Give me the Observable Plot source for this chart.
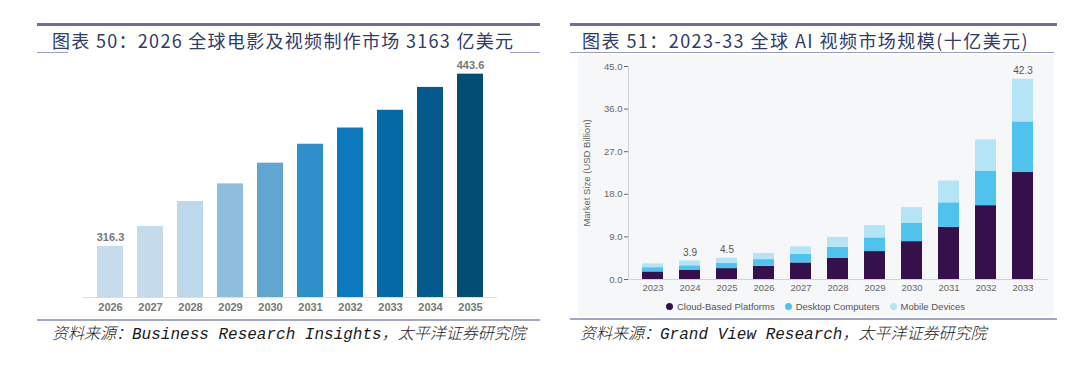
<!DOCTYPE html>
<html>
<head>
<meta charset="utf-8">
<script src="https://cdn.jsdelivr.net/npm/d3@7"></script>
<script src="https://cdn.jsdelivr.net/npm/@observablehq/plot@0.6"></script>
<style>
  html, body { margin: 0; padding: 0; background: #fff; }
  body { width: 1080px; height: 384px; position: relative; overflow: hidden; font-family: "Noto Sans CJK SC", "Noto Sans", sans-serif; }
  .abs { position: absolute; }
  .thick { height: 3px; background: #6d6f9c; }
  .thin { height: 1px; background: #9a9cc0; }
  .foot { height: 2px; background: #a3a5c4; }
  .title { font-size: 18px; color: #2f3c66; white-space: nowrap; line-height: 1; letter-spacing: 1.3px; }
  .src { font-size: 16px; color: #1a1a1a; font-style: italic; white-space: nowrap; line-height: 1;
         font-family: "Liberation Mono", "DejaVu Sans Mono", "Noto Sans CJK SC", monospace; }
  .src .cjk { font-family: "Noto Sans CJK SC", sans-serif; font-weight: 300; }
  .legend { display: flex; justify-content: center; align-items: center; font-family: "Liberation Sans", Arial, sans-serif; font-size: 9.5px; color: #555; }
  .legend .item { display: flex; align-items: center; margin: 0 5px; }
  .legend .dot { width: 7px; height: 7px; border-radius: 50%; margin-right: 4px; }
</style>
</head>
<body>
<!-- Panel 1 frame -->
<div class="abs thick" style="left:37px; top:23px; width:503px;"></div>
<div class="abs title" style="left:52px; top:31px;">图表 50：2026 全球电影及视频制作市场 3163 亿美元</div>
<div class="abs thin" style="left:37px; top:52px; width:31px;"></div>
<div class="abs thin" style="left:510px; top:52px; width:30px;"></div>
<div id="chart1" class="abs" style="left:38px; top:57px;"></div>
<div class="abs foot" style="left:37px; top:319px; width:503px;"></div>
<div class="abs src" style="left:52px; top:324px;"><span class="cjk">资料来源：</span>Business Research Insights<span class="cjk">，太平洋证券研究院</span></div>

<!-- Panel 2 frame -->
<div class="abs thick" style="left:570px; top:23px; width:487px;"></div>
<div class="abs title" style="left:582px; top:31px; letter-spacing:1.45px;">图表 51：2023-33 全球 AI 视频市场规模(十亿美元)</div>
<div class="abs thin" style="left:570px; top:52px; width:484px;"></div>
<div class="abs" style="left:578px; top:55px; width:475px; height:261px; background:#f6f7f9;"></div>
<div id="chart2" class="abs" style="left:578px; top:57px;"></div>
<div id="legend2" class="abs legend" style="left:578px; top:299px; width:475px; height:14px;"></div>
<div class="abs foot" style="left:570px; top:318px; width:487px;"></div>
<div class="abs src" style="left:580px; top:324px;"><span class="cjk">资料来源：</span>Grand View Research<span class="cjk">，太平洋证券研究院</span></div>

<script>
// ---------- Panel 1 data ----------
const years1 = ["2026","2027","2028","2029","2030","2031","2032","2033","2034","2035"];
const values1 = [316.3, 331.1, 349.5, 362.5, 377.8, 391.8, 403.8, 416.9, 433.8, 443.6];
const labeled1 = ["2026", "2035"];
const colors1 = ["#c6dcec","#c5dbeb","#bcd8ea","#8fbddc","#61a6d0","#2e8fcb","#0c79bf","#0469a6","#045a8d","#034c72"];
const base1 = 278.5;

// ---------- Panel 2 data ----------
const years2 = ["2023","2024","2025","2026","2027","2028","2029","2030","2031","2032","2033"];
const seriesNames = ["Cloud-Based Platforms", "Desktop Computers", "Mobile Devices"];
const cloud   = [1.6, 1.9, 2.3, 2.8, 3.5, 4.5, 5.9, 8.0, 11.0, 15.6, 22.6];
const desktop = [0.9, 1.0, 1.1, 1.4, 1.8, 2.3, 2.9, 3.9, 5.2, 7.3, 10.7];
const mobile  = [0.8, 1.0, 1.1, 1.3, 1.6, 2.1, 2.6, 3.3, 4.6, 6.6, 9.0];
const seriesColors = ["#35104a", "#4fc3ee", "#b6e4f7"];
const labelYears2 = ["2024", "2025", "2033"];
const labelTexts2 = ["3.9", "4.5", "42.3"];
const yTicks2 = [0, 9, 18, 27, 36, 45];

// ---------- Chart 1 ----------
const d1 = years1.map((y, i) => ({year: y, value: values1[i]}));
const chart1 = Plot.plot({
  width: 502, height: 262,
  marginLeft: 45, marginRight: 43, marginTop: 8, marginBottom: 22,
  style: {background: "transparent", fontFamily: "Liberation Sans, Arial, sans-serif", fontSize: "11px", fontWeight: "bold", color: "#777"},
  x: {domain: years1, padding: 0.35, label: null, tickSize: 0, tickPadding: 6},
  y: {domain: [base1, 450], axis: null},
  color: {domain: years1, range: colors1},
  marks: [
    Plot.barY(d1, {x: "year", y1: base1, y2: "value", fill: "year"}),
    Plot.ruleY([base1], {stroke: "#dedede", strokeWidth: 1}),
    Plot.text(d1.filter(d => labeled1.includes(d.year)), {x: "year", y: "value", text: d => d.value.toFixed(1), dy: -9, fill: "#777", fontWeight: "bold", fontSize: 11})
  ]
});
document.getElementById("chart1").appendChild(chart1);

// ---------- Chart 2 ----------
const d2 = [];
years2.forEach((y, i) => {
  d2.push({year: y, series: seriesNames[0], value: cloud[i]});
  d2.push({year: y, series: seriesNames[1], value: desktop[i]});
  d2.push({year: y, series: seriesNames[2], value: mobile[i]});
});
const labels2 = labelYears2.map((y, k) => {
  const i = years2.indexOf(y);
  return {year: y, total: cloud[i] + desktop[i] + mobile[i], text: labelTexts2[k]};
});
const chart2 = Plot.plot({
  width: 475, height: 240,
  marginLeft: 50, marginRight: 6, marginTop: 9, marginBottom: 18,
  style: {background: "transparent", fontFamily: "Liberation Sans, Arial, sans-serif", fontSize: "9.5px", color: "#666"},
  x: {domain: years2, paddingInner: 0.44, paddingOuter: 0.27, label: null, tickSize: 0, tickPadding: 5},
  y: {domain: [0, 45], ticks: yTicks2, tickFormat: d => d.toFixed(1), label: "Market Size (USD Billion)",
      labelAnchor: "center", labelArrow: "none", labelOffset: 45, tickSize: 4, tickPadding: 2},
  color: {domain: seriesNames, range: seriesColors},
  marks: [
    Plot.barY(d2, {x: "year", y: "value", fill: "series"}),
    Plot.frame({anchor: "left", stroke: "#cfd2d6"}),
    Plot.frame({anchor: "bottom", stroke: "#cfd2d6"}),
    Plot.text(labels2, {x: "year", y: "total", text: "text", dy: -8, fill: "#555", fontSize: 10})
  ]
});
document.getElementById("chart2").appendChild(chart2);

// ---------- Legend 2 ----------
const lg = document.getElementById("legend2");
seriesNames.forEach((n, i) => {
  const item = document.createElement("div");
  item.className = "item";
  const dot = document.createElement("span");
  dot.className = "dot";
  dot.style.background = seriesColors[i];
  const t = document.createElement("span");
  t.textContent = n;
  item.appendChild(dot); item.appendChild(t);
  lg.appendChild(item);
});
</script>
</body>
</html>
